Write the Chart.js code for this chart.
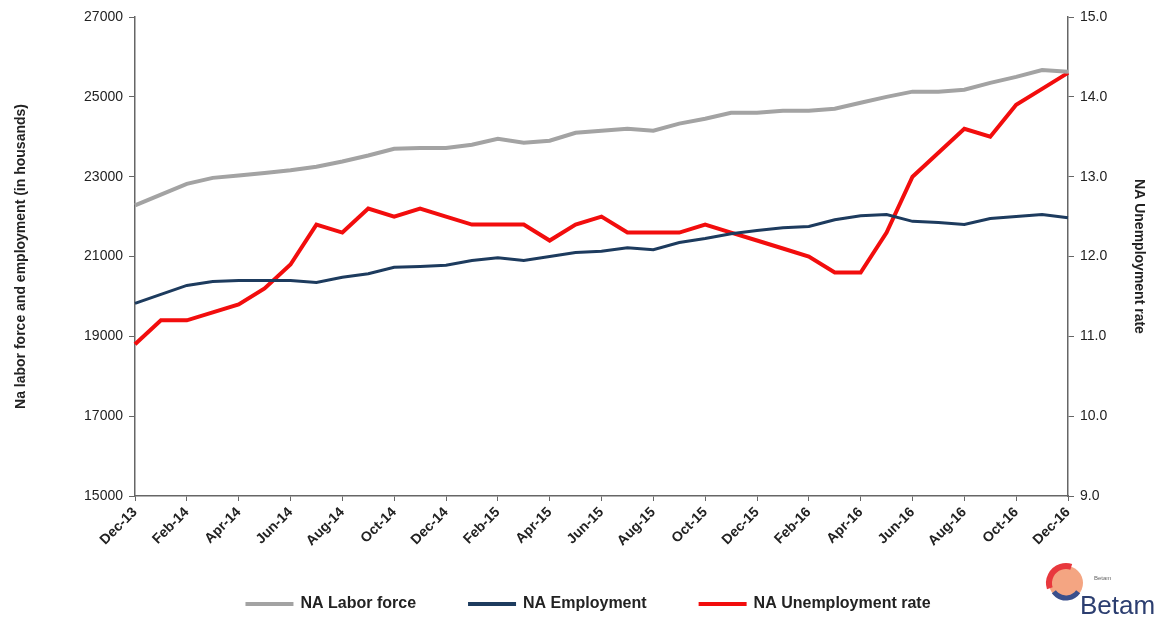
<!DOCTYPE html>
<html>
<head>
<meta charset="utf-8">
<script src="https://cdn.jsdelivr.net/npm/chart.js@4.4.0/dist/chart.umd.min.js"></script>
<style>
  html, body { margin: 0; padding: 0; background: #fff; }
  #wrap { width: 1154px; height: 618px; position: relative; }
</style>
</head>
<body>
<div id="wrap"><canvas id="naChart"></canvas></div>
<script>
var months = ["Dec-13", "Jan-14", "Feb-14", "Mar-14", "Apr-14", "May-14", "Jun-14", "Jul-14", "Aug-14", "Sep-14", "Oct-14", "Nov-14",
  "Dec-14", "Jan-15", "Feb-15", "Mar-15", "Apr-15", "May-15", "Jun-15", "Jul-15", "Aug-15", "Sep-15", "Oct-15", "Nov-15",
  "Dec-15", "Jan-16", "Feb-16", "Mar-16", "Apr-16", "May-16", "Jun-16", "Jul-16", "Aug-16", "Sep-16", "Oct-16", "Nov-16", "Dec-16"];

var laborForce = [22280, 22550, 22820, 22970, 23030, 23090, 23160, 23250, 23380, 23530, 23700, 23720,
  23720, 23800, 23950, 23850, 23900, 24100, 24150, 24200, 24150, 24330, 24450, 24600,
  24600, 24650, 24650, 24700, 24850, 25000, 25130, 25130, 25180, 25350, 25500, 25670, 25630];

var employment = [19825, 20050, 20275, 20375, 20400, 20400, 20400, 20350, 20480, 20570, 20730, 20750,
  20780, 20900, 20970, 20900, 21000, 21100, 21130, 21220, 21170, 21350, 21450, 21570,
  21650, 21720, 21750, 21920, 22020, 22050, 21880, 21850, 21800, 21950, 22000, 22050, 21970];

var unemploymentRate = [10.9, 11.2, 11.2, 11.3, 11.4, 11.6, 11.9, 12.4, 12.3, 12.6, 12.5, 12.6,
  12.5, 12.4, 12.4, 12.4, 12.2, 12.4, 12.5, 12.3, 12.3, 12.3, 12.4, 12.3,
  12.2, 12.1, 12.0, 11.8, 11.8, 12.3, 13.0, 13.3, 13.6, 13.5, 13.9, 14.1, 14.3];

var leftTicks = [15000, 17000, 19000, 21000, 23000, 25000, 27000];
var rightTicks = [9, 10, 11, 12, 13, 14, 15];

Chart.defaults.font.family = "'Liberation Sans', Arial, sans-serif";
Chart.defaults.color = "#222";

// legend drawn by hand so the item spacing can follow the original
var legendPlugin = {
  id: "wideLegend",
  afterDraw: function (chart) {
    var c = chart.ctx;
    var sets = chart.data.datasets;
    var lineW = 48, gapText = 7, gapItem = 52, y = 604;
    c.save();
    c.font = "bold 16px 'Liberation Sans', Arial, sans-serif";
    var total = 0;
    sets.forEach(function (d, i) {
      total += lineW + gapText + c.measureText(d.label).width + (i < sets.length - 1 ? gapItem : 0);
    });
    var x = 588 - total / 2;
    c.textBaseline = "middle";
    sets.forEach(function (d) {
      c.strokeStyle = d.borderColor;
      c.lineWidth = 4;
      c.beginPath();
      c.moveTo(x, y);
      c.lineTo(x + lineW, y);
      c.stroke();
      x += lineW + gapText;
      c.fillStyle = "#222";
      c.fillText(d.label, x, y);
      x += c.measureText(d.label).width + gapItem;
    });
    c.restore();
  }
};

// little Betam mark in the lower right corner
var logoPlugin = {
  id: "logo",
  afterDraw: function (chart) {
    var c = chart.ctx;
    c.save();
    c.beginPath();
    c.arc(1066, 583, 17, 0, Math.PI * 2);
    c.fillStyle = "#f4a582";
    c.fill();
    c.beginPath();
    c.arc(1066, 583, 17, Math.PI * 0.9, Math.PI * 1.6);
    c.lineWidth = 6;
    c.strokeStyle = "#e8383d";
    c.stroke();
    c.beginPath();
    c.arc(1066, 583, 15, Math.PI * 0.2, Math.PI * 0.8);
    c.lineWidth = 5;
    c.strokeStyle = "#3a4f8c";
    c.stroke();
    c.font = "6px 'Liberation Sans'";
    c.fillStyle = "#666";
    c.fillText("Betam", 1094, 580);
    c.font = "26px 'Liberation Sans Narrow', 'Liberation Sans'";
    c.fillStyle = "#2c3e70";
    c.textBaseline = "alphabetic";
    c.fillText("Betam", 1080, 614);
    c.restore();
  }
};

var ctx = document.getElementById("naChart").getContext("2d");
var naChart = new Chart(ctx, {
  type: "line",
  data: {
    labels: months,
    datasets: [
      {
        label: "NA Labor force",
        data: laborForce,
        borderColor: "#a3a3a3",
        backgroundColor: "#a3a3a3",
        borderWidth: 4,
        pointRadius: 0,
        tension: 0,
        yAxisID: "y",
      },
      {
        label: "NA Employment",
        data: employment,
        borderColor: "#1d3b5e",
        backgroundColor: "#1d3b5e",
        borderWidth: 3,
        pointRadius: 0,
        tension: 0,
        yAxisID: "y",
      },
      {
        label: "NA Unemployment rate",
        data: unemploymentRate,
        borderColor: "#f20d0d",
        backgroundColor: "#f20d0d",
        borderWidth: 4,
        pointRadius: 0,
        tension: 0,
        yAxisID: "y1",
      },
    ],
  },
  options: {
    responsive: true,
    maintainAspectRatio: false,
    animation: false,
    layout: { padding: { top: 17, right: 0, left: 13, bottom: 62 } },
    plugins: {
      tooltip: { enabled: false },
      legend: { display: false },
    },
    scales: {
      x: {
        offset: false,
        grid: {
          drawOnChartArea: false,
          color: "#666",
          tickLength: 5,
        },
        border: { color: "#666", width: 1.5 },
        ticks: {
          autoSkip: false,
          maxRotation: 45,
          minRotation: 45,
          font: { size: 14, weight: "bold" },
          color: "#222",
          callback: function (v, i) {
            return i % 2 === 0 ? months[i] : null;
          },
        },
        afterFit: function (s) { s.height = 60; },
      },
      y: {
        position: "left",
        min: 15000,
        max: 27000,
        afterBuildTicks: function (s) {
          s.ticks = leftTicks.map(function (v) { return { value: v }; });
        },
        grid: { drawOnChartArea: false, color: "#666", tickLength: 6 },
        border: { color: "#666", width: 1.5 },
        ticks: {
          font: { size: 14 },
          color: "#222",
          padding: 6,
          callback: function (v) { return String(v); },
        },
        title: {
          display: true,
          text: "Na labor force and employment (in housands)",
          font: { size: 14, weight: "bold" },
          color: "#222",
          padding: { top: 0, bottom: 10 },
        },
        afterFit: function (s) { s.width = 122; },
      },
      y1: {
        position: "right",
        min: 9,
        max: 15,
        afterBuildTicks: function (s) {
          s.ticks = rightTicks.map(function (v) { return { value: v }; });
        },
        grid: { drawOnChartArea: false, color: "#666", tickLength: 6 },
        border: { color: "#666", width: 1.5 },
        ticks: {
          font: { size: 14 },
          color: "#222",
          padding: 6,
          callback: function (v) { return v.toFixed(1); },
        },
        title: {
          display: true,
          text: "NA Unemployment rate",
          font: { size: 14, weight: "bold" },
          color: "#222",
          padding: { top: 7, bottom: 0 },
        },
        afterFit: function (s) { s.width = 86; },
      },
    },
  },
  plugins: [legendPlugin, logoPlugin],
});
</script>
</body>
</html>
